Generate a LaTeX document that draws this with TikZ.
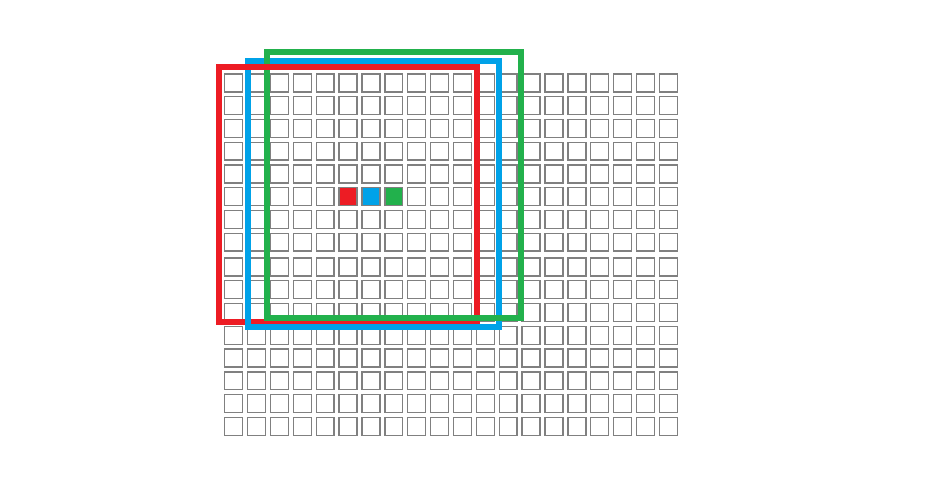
\documentclass[tikz,border=0pt]{standalone}
\usepackage{xcolor}
\definecolor{cred}{HTML}{ED1C24}
\definecolor{cblue}{HTML}{00A2E8}
\definecolor{cgreen}{HTML}{22B14C}
\definecolor{cgray}{HTML}{808080}
\begin{document}
\begin{tikzpicture}[x=1pt,y=-1pt,
  cell/.style={draw=cgray,line width=1.4pt},
  win/.style={line width=6pt,line join=miter}]
\useasboundingbox (0,0) rectangle (945,488);
\fill[white] (0,0) rectangle (945,488);
\foreach \r in {0,...,15}{
  \foreach \c in {0,...,19}{
    \pgfmathsetmacro{\xl}{224.7+22.88*\c}
    \pgfmathsetmacro{\yt}{\r<8 ? 74.0+22.75*\r : 258.0+22.77*(\r-8)}
    \draw[cell] (\xl,\yt) rectangle ++(17.9,17.9);
  }
}
% coloured cells
\pgfmathsetmacro{\yc}{74.0+22.75*5}
\pgfmathsetmacro{\xa}{224.7+22.88*5}
\pgfmathsetmacro{\xb}{224.7+22.88*6}
\pgfmathsetmacro{\xc}{224.7+22.88*7}
\draw[cell,fill=cred] (\xa,\yc) rectangle ++(17.9,17.9);
\draw[cell,fill=cblue] (\xb,\yc) rectangle ++(17.9,17.9);
\draw[cell,fill=cgreen] (\xc,\yc) rectangle ++(17.9,17.9);
% windows
\draw[win,cred] (219,67) rectangle (476.7,322.3);
\draw[win,cblue] (247.7,60.5) rectangle (498.5,327.3);
\draw[win,cgreen] (267,52.2) rectangle (520.8,318.3);
\draw[win,cred] (219,67) -- (476.7,67);
\end{tikzpicture}
\end{document}
